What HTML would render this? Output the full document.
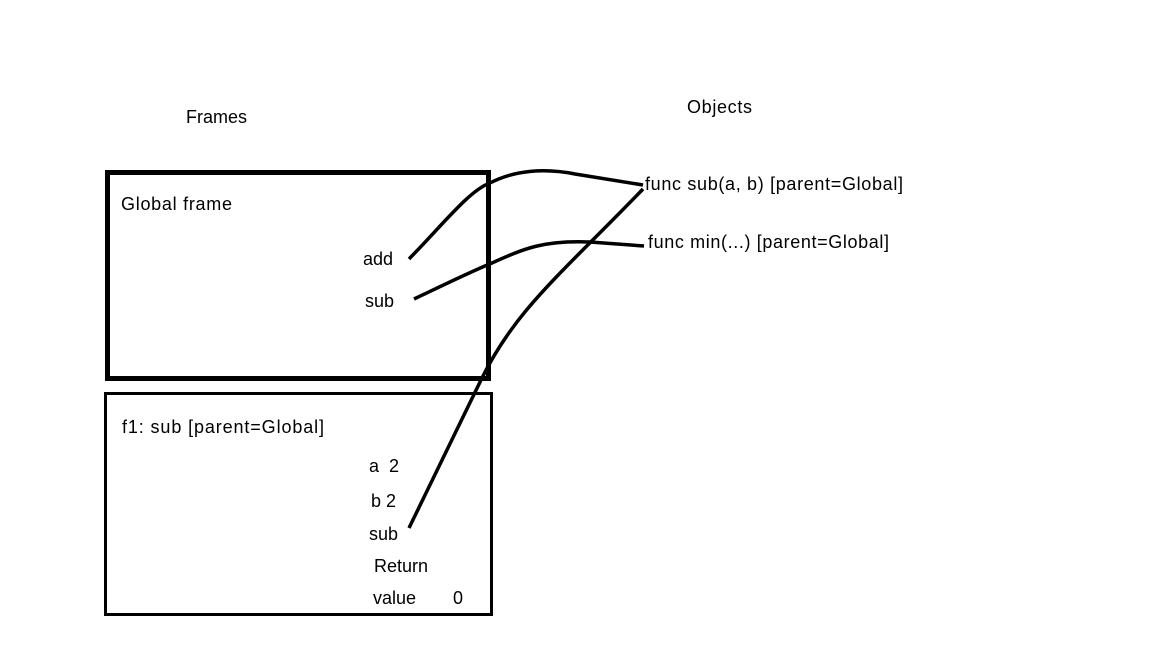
<!DOCTYPE html>
<html><head><meta charset="utf-8"><style>
html,body{margin:0;padding:0;background:#fff;}
svg{display:block;}
text{font-family:"Liberation Sans","DejaVu Sans",sans-serif;font-size:18px;fill:#000;}
</style></head><body>
<svg width="1152" height="648" viewBox="0 0 1152 648" xmlns="http://www.w3.org/2000/svg">
<rect x="107.5" y="172.5" width="381" height="206" fill="none" stroke="#000" stroke-width="5"/>
<rect x="105.5" y="393.5" width="386" height="221" fill="none" stroke="#000" stroke-width="3"/>
<text x="186" y="123" textLength="61">Frames</text>
<text x="687" y="113" textLength="65">Objects</text>
<text x="121" y="210" textLength="111">Global frame</text>
<text x="363" y="265">add</text>
<text x="365" y="307">sub</text>
<text x="645" y="190" textLength="258">func sub(a, b) [parent=Global]</text>
<text x="648" y="248" textLength="241">func min(...) [parent=Global]</text>
<text x="122" y="433" textLength="202">f1: sub [parent=Global]</text>
<text x="369" y="472" xml:space="preserve">a  2</text>
<text x="371" y="507">b 2</text>
<text x="369" y="540">sub</text>
<text x="374" y="572">Return</text>
<text x="373" y="604">value</text>
<text x="453" y="604">0</text>
<g fill="none" stroke="#000" stroke-width="3.5">
<path d="M409,259 C445,222 470,190 490,183 C515,170 545,168 575,174 L643,185"/>
<path d="M414,299 C450,282 470,272 492,263 C525,248 545,240 590,242 L644,246"/>
<path d="M409,528 L481,380 C515,310 560,275 643,189"/>
</g>
</svg>
</body></html>
